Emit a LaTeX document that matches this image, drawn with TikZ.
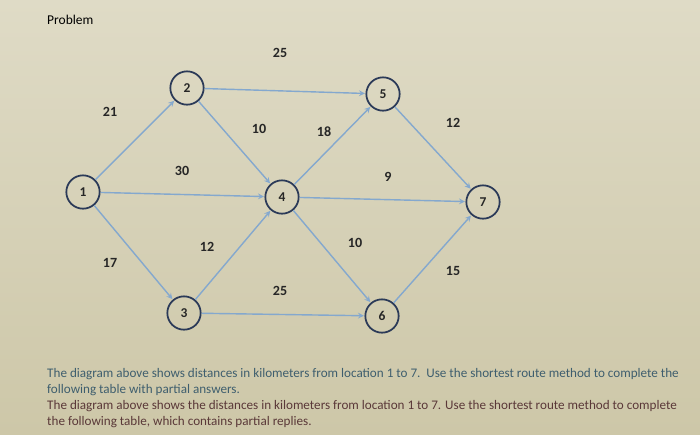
\documentclass[tikz,border=0pt]{standalone}
\usepackage{fontspec}
\setmainfont{Carlito}
\usepackage{xcolor}
\usepackage{tikz}

\definecolor{bgtop}{HTML}{DFDBC6}
\definecolor{bgbot}{HTML}{CDC7A8}
\definecolor{ring}{HTML}{2B3A58}
\definecolor{roadblue}{HTML}{84A8CE}
\definecolor{noteA}{HTML}{3E5E6E}
\definecolor{noteB}{HTML}{5A3838}

\tikzset{
  loc/.style={circle, draw=ring, line width=1.5pt, minimum size=1.0cm, inner sep=0pt,
    font=\fontsize{11.5}{13}\selectfont\bfseries, text=black!85},
  road/.style={->, >=stealth, draw=roadblue, line width=1.2pt, shorten >=0.5pt},
  dist/.style={font=\fontsize{12}{14}\selectfont\bfseries, text=black!85, inner sep=1pt},
  note/.style={anchor=west, font=\fontsize{11.2}{13}\selectfont, inner sep=0pt}
}

\begin{document}
\begin{tikzpicture}[x=0.03cm, y=-0.03cm]
	    \useasboundingbox (0,0) rectangle (700,434);
	    \fill[top color=bgtop, bottom color=bgbot] (0,0) rectangle (700,434);
	    \node[anchor=west, inner sep=0pt, font=\fontsize{11.5}{13}\selectfont] (title) at (47,20) {Problem};
	    % locations
	    \foreach \n/\x/\y in {1/83/192, 2/187/88, 3/184/313, 4/282/197, 5/383/94, 6/382/316, 7/483/202} {
	      \node[loc] (n\n) at (\x,\y) {\n};
	    }
	    % routes
	    \foreach \a/\b in {1/2, 1/4, 1/3, 2/5, 2/4, 4/5, 3/4, 3/6, 4/6, 4/7, 5/7, 6/7} {
	      \draw[road] (n\a) -- (n\b);
	    }
	    % distances
	    \foreach \k/\d/\x/\y in {a/25/280/53, b/21/110/112, c/10/259/129, d/18/324/132, e/12/453/123,
	                            f/30/182/171, g/9/388/177, h/12/207/247, i/10/355/243, j/17/110/263,
	                            k/15/453/271, l/25/280/291} {
	      \node[dist] (d\k) at (\x,\y) {\d};
	    }
	    \node[note, text=noteA] (lineA) at (47,374) {The diagram above shows distances in kilometers from location 1 to 7.\ \ Use the shortest route method to complete the};
	    \node[note, text=noteA] (lineB) at (47,390) {following table with partial answers.};
	    \node[note, text=noteB] (lineC) at (47,406) {The diagram above shows the distances in kilometers from location 1 to 7. Use the shortest route method to complete};
	    \node[note, text=noteB] (lineD) at (47,422) {the following table, which contains partial replies.};
	  \end{tikzpicture}
\end{document}
